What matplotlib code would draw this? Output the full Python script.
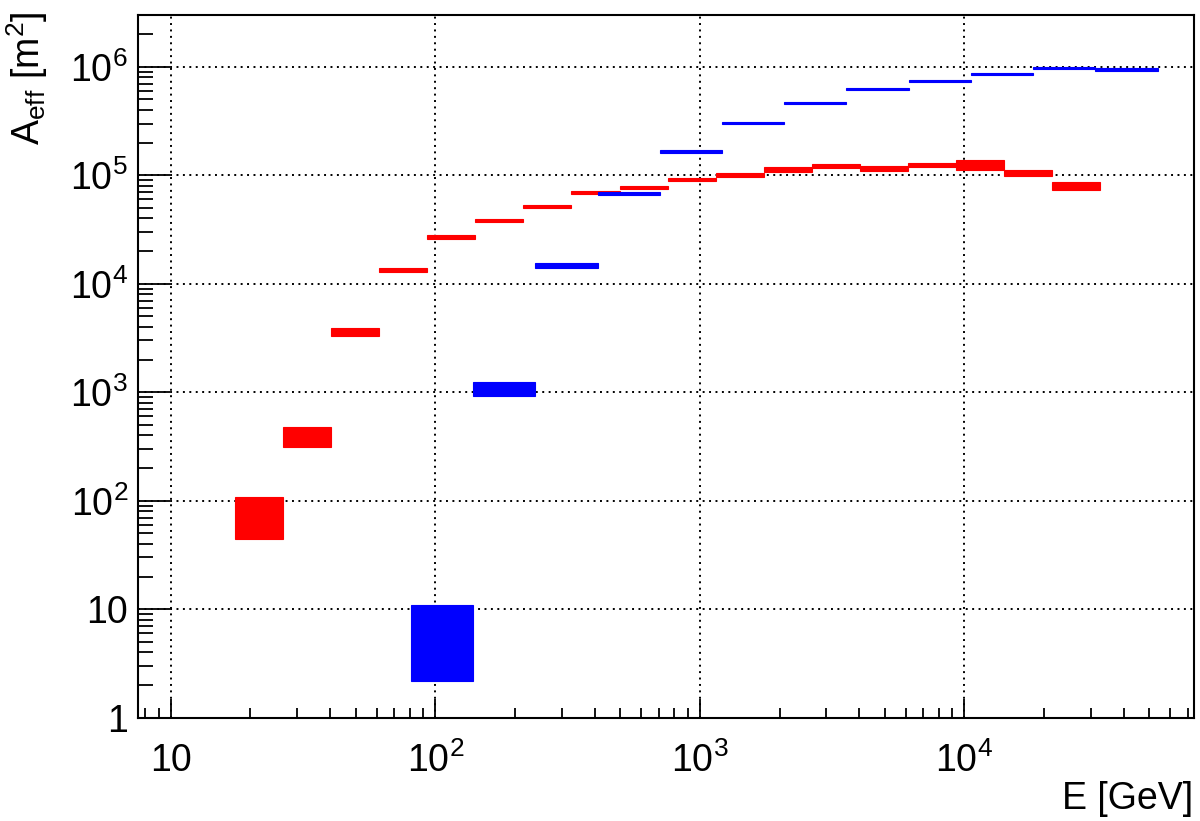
import matplotlib
matplotlib.use('Agg')
import matplotlib.pyplot as plt
from matplotlib.ticker import FixedLocator, LogLocator, NullFormatter

plt.rcParams['font.family'] = ['Liberation Sans', 'DejaVu Sans']
plt.rcParams['mathtext.fontset'] = 'custom'
plt.rcParams['mathtext.rm'] = 'Liberation Sans'
plt.rcParams['mathtext.it'] = 'Liberation Sans:italic'
plt.rcParams['mathtext.bf'] = 'Liberation Sans:bold'

# red series: energy bin edges [GeV] and the A_eff band (low / high) [m^2]
red_edges = [17.46, 26.53, 40.32, 61.28, 93.16, 141.6, 215.2, 327.1, 497.1, 755.5,
             1148, 1745, 2652, 4031, 6127, 9312, 14150, 21510, 32690]
red_lo = [44.3, 316, 3300, 1.285e4, 2.59e4, 3.72e4, 4.98e4, 6.70e4, 7.45e4,
          8.77e4, 9.6e4, 1.074e5, 1.156e5, 1.09e5, 1.19e5, 1.122e5, 9.8e4, 7.3e4]
red_hi = [108, 474, 3910, 1.41e4, 2.79e4, 3.99e4, 5.30e4, 7.18e4, 7.98e4,
          9.40e4, 1.045e5, 1.18e5, 1.26e5, 1.213e5, 1.31e5, 1.387e5, 1.114e5, 8.65e4]

# blue series
blue_edges = [80.85, 139.0, 238.9, 410.6, 705.6, 1213, 2084, 3582, 6157,
              10580, 18180, 31250, 53720]
blue_lo = [2.18, 923, 1.40e4, 6.52e4, 1.60e5, 3.0e5, 4.5e5, 6.1e5, 7.28e5,
           8.37e5, 9.46e5, 9.06e5]
blue_hi = [11.0, 1233, 1.57e4, 7.03e4, 1.71e5, 3.13e5, 4.72e5, 6.37e5, 7.59e5,
           8.75e5, 9.93e5, 9.66e5]

x_ticks = [10, 1e2, 1e3, 1e4]
x_ticklabels = ['10', r'$\mathregular{10^{2}}$', r'$\mathregular{10^{3}}$', r'$\mathregular{10^{4}}$']
y_ticks = [1, 10, 1e2, 1e3, 1e4, 1e5, 1e6]
y_ticklabels = ['1', '10', r'$\mathregular{10^{2}}$', r'$\mathregular{10^{3}}$',
                r'$\mathregular{10^{4}}$', r'$\mathregular{10^{5}}$', r'$\mathregular{10^{6}}$']

fig = plt.figure(figsize=(12, 8.21), dpi=100)
ax = fig.add_axes([0.1148, 0.1258, 0.8805, 0.8559])


def draw_boxes(edges, lo, hi, color):
    left = edges[:-1]
    width = [b - a for a, b in zip(edges[:-1], edges[1:])]
    height = [h - l for l, h in zip(lo, hi)]
    ax.bar(left, height, width=width, bottom=lo, align='edge', color=color,
           edgecolor=color, linewidth=0.8, zorder=3)


draw_boxes(red_edges, red_lo, red_hi, '#ff0000')
draw_boxes(blue_edges, blue_lo, blue_hi, '#0000ff')

ax.set_xscale('log')
ax.set_yscale('log')
ax.set_xlim(7.5, 74000)
ax.set_ylim(1, 3e6)

ax.xaxis.set_major_locator(FixedLocator(x_ticks))
ax.set_xticklabels(x_ticklabels)
ax.yaxis.set_major_locator(FixedLocator(y_ticks))
ax.set_yticklabels(y_ticklabels)
ax.xaxis.set_minor_locator(LogLocator(base=10, subs=range(2, 10), numticks=20))
ax.yaxis.set_minor_locator(LogLocator(base=10, subs=range(2, 10), numticks=20))
ax.xaxis.set_minor_formatter(NullFormatter())
ax.yaxis.set_minor_formatter(NullFormatter())

ax.tick_params(axis='both', which='both', direction='in', width=1.3, labelsize=27)
ax.tick_params(axis='x', which='major', length=14, pad=18)
ax.tick_params(axis='x', which='minor', length=7)
ax.tick_params(axis='y', which='major', length=23, pad=7)
ax.tick_params(axis='y', which='minor', length=11)

for s in ax.spines.values():
    s.set_linewidth(1.5)

ax.set_axisbelow(True)
ax.grid(True, which='major', color='black', linestyle=(0, (1, 2.3)), linewidth=1.4)

fig.text(1193 / 1200, 1 - 799 / 821, 'E [GeV]', ha='right', va='center', fontsize=27)
fig.text(27 / 1200, 1 - 12 / 821, r'A$_{\mathregular{eff}}$ [m$^{\mathregular{2}}$]',
         rotation=90, ha='center', va='top', fontsize=27)

fig.savefig('out.png', dpi=100)
